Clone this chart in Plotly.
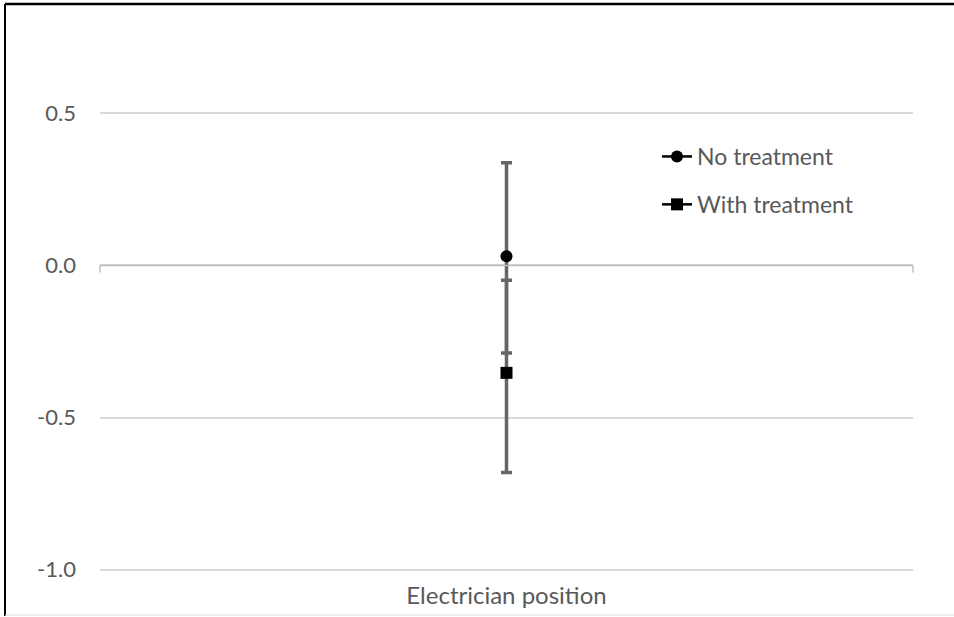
import plotly.graph_objects as go

# ---- data ----
categories = ["Electrician position"]
series_names = ["No treatment", "With treatment"]
means = [0.03, -0.353]
err_plus = [0.307, 0.304]
err_minus = [0.318, 0.327]
marker_symbols = ["circle", "square"]
y_tick_vals = [-1.0, -0.5, 0.0, 0.5]
y_tick_text = ["-1.0", "-0.5", "0.0", "0.5"]

FONT = "Lato"
TXT = "#595959"

fig = go.Figure()
for i, name in enumerate(series_names):
    fig.add_trace(go.Scatter(
        x=categories, y=[means[i]], name=name, mode="lines+markers",
        line=dict(color="black", width=2.5),
        marker=dict(symbol=marker_symbols[i], size=12, color="black"),
        error_y=dict(type="data", symmetric=False, array=[err_plus[i]],
                     arrayminus=[err_minus[i]], color="#666666",
                     thickness=3.5, width=5.5),
        legendgroup=name,
    ))

# plot area occupies x 100..913, y 113..570 px
L, R, T, B = 100, 41, 112, 46
W, H = 954, 617
pw, ph = W - L - R, H - T - B

def px_x(p):
    return (p - L) / pw

def px_y(p):
    return (H - B - p) / ph

shapes = [
    # x axis line at 0
    dict(type="line", xref="paper", yref="y", x0=0, x1=1, y0=0, y1=0,
         line=dict(color="#bfbfbf", width=1.5), layer="above"),
    dict(type="line", xref="paper", yref="y", x0=0, x1=0, y0=0, y1=-7,
         ysizemode="pixel", yanchor=0, line=dict(color="#bfbfbf", width=1.5)),
    dict(type="line", xref="paper", yref="y", x0=1, x1=1, y0=0, y1=-7,
         ysizemode="pixel", yanchor=0, line=dict(color="#bfbfbf", width=1.5)),
    # chart frame
    dict(type="line", xref="paper", yref="paper", x0=px_x(5), x1=px_x(954),
         y0=px_y(4), y1=px_y(4), line=dict(color="black", width=2.5)),
    dict(type="line", xref="paper", yref="paper", x0=px_x(5), x1=px_x(5),
         y0=px_y(4), y1=px_y(616), line=dict(color="black", width=2)),
    dict(type="line", xref="paper", yref="paper", x0=px_x(5), x1=px_x(954),
         y0=px_y(615), y1=px_y(615), line=dict(color="#d9d9d9", width=1)),
]

fig.update_layout(
    width=W, height=H,
    margin=dict(l=L, r=R, t=T, b=B, autoexpand=False),
    paper_bgcolor="white", plot_bgcolor="white",
    font=dict(family=FONT, size=22, color=TXT),
    showlegend=True,
    legend=dict(x=px_x(657), y=px_y(135), xanchor="left", yanchor="top",
                bgcolor="rgba(0,0,0,0)", font=dict(size=23, color=TXT),
                traceorder="grouped", tracegroupgap=15, itemwidth=30),
    xaxis=dict(type="category", showgrid=False, showline=False, ticks="",
               zeroline=False, ticklabelstandoff=8, automargin=False,
               tickfont=dict(size=24, color=TXT)),
    yaxis=dict(range=[-1.004, 0.504], tickvals=y_tick_vals, ticktext=y_tick_text,
               showgrid=True, gridcolor="#d9d9d9", gridwidth=1.5,
               zeroline=False, showline=False, ticks="", automargin=False,
               ticklabelstandoff=23, tickfont=dict(size=22, color=TXT)),
    shapes=shapes,
)

fig.write_html("out.html")
